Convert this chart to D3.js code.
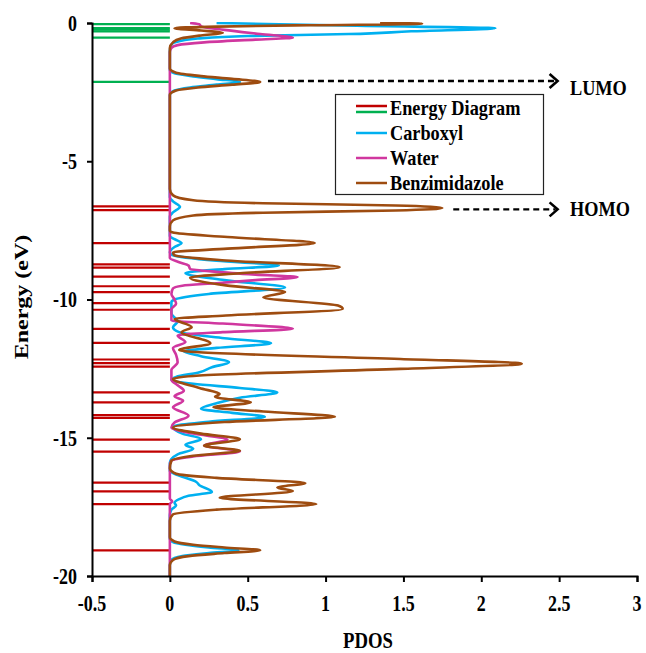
<!DOCTYPE html>
<html>
<head>
<meta charset="utf-8">
<script src="https://cdn.jsdelivr.net/npm/d3@7/dist/d3.min.js"></script>
<style>
  html, body { margin: 0; padding: 0; background: #fff; }
  svg { display: block; }
  text { font-family: "Liberation Serif", "Times New Roman", serif; font-weight: bold; fill: #000; }
</style>
</head>
<body>
<svg id="chart" width="646" height="653"></svg>
<script>
// Orbital energy levels (eV): unoccupied (green) and occupied (red)
const unoccupiedLevels = [-0.04, -0.18, -0.24, -0.3, -0.53, -2.13];
const occupiedLevels = [-6.63, -6.77, -7.96, -8.73, -8.85, -9.17, -9.52, -9.73, -10.13, -10.37,
  -11.06, -11.57, -12.17, -12.3, -12.43, -13.36, -13.72, -14.18, -14.28, -15.07, -15.5,
  -16.62, -16.94, -17.4, -19.07];
const levelSpan = [-0.5, 0];

// Projected density of states, [energy (eV), PDOS]
const carboxyl = [
  [0, 0.3], [-0.1, 1.2], [-0.19, 2.09], [-0.3, 1.55], [-0.4, 1.15], [-0.47, 0.5], [-0.56, 0.18],
  [-0.66, 0.06], [-0.78, 0.01], [-1.0, 0],
  [-1.7, 0], [-1.82, 0.03], [-1.93, 0.15], [-2.03, 0.3], [-2.13, 0.45], [-2.23, 0.3], [-2.33, 0.13],
  [-2.44, 0.03], [-2.6, 0],
  [-6.3, 0], [-6.45, 0.02], [-6.65, 0.065], [-6.85, 0.02], [-7.0, 0],
  [-7.7, 0], [-7.82, 0.03], [-7.96, 0.075], [-8.1, 0.03], [-8.3, 0],
  [-8.4, 0.02], [-8.6, 0.3], [-8.77, 0.7], [-8.9, 0.35], [-9.04, 0.1], [-9.3, 0.35], [-9.57, 0.74],
  [-9.8, 0.25], [-10.0, 0.03], [-10.1, 0.01],
  [-10.5, 0.01], [-10.8, 0.05], [-11.0, 0.02], [-11.18, 0.06], [-11.4, 0.35], [-11.58, 0.65],
  [-11.75, 0.3], [-11.87, 0.09], [-12.05, 0.2], [-12.27, 0.38], [-12.45, 0.27], [-12.63, 0.19],
  [-12.8, 0.04], [-12.9, 0.01],
  [-13.05, 0.15], [-13.2, 0.45], [-13.36, 0.69], [-13.55, 0.45], [-13.75, 0.3], [-13.95, 0.2],
  [-14.1, 0.4], [-14.25, 0.61], [-14.42, 0.25], [-14.6, 0.02],
  [-14.85, 0.08], [-15.05, 0.2], [-15.25, 0.1], [-15.4, 0.15], [-15.6, 0.05], [-15.77, 0.01], [-15.9, 0],
  [-16.2, 0], [-16.35, 0.05], [-16.6, 0.17], [-16.72, 0.19], [-16.96, 0.27], [-17.1, 0.12],
  [-17.22, 0.06], [-17.35, 0.03], [-17.45, 0.04], [-17.6, 0.01], [-17.8, 0],
  [-18.65, 0], [-18.77, 0.02], [-18.87, 0.1], [-18.97, 0.25], [-19.07, 0.44], [-19.17, 0.25],
  [-19.28, 0.08], [-19.42, 0.01], [-19.6, 0], [-20, 0]
];

const water = [
  [0, 0.13], [-0.05, 0.19], [-0.12, 0.2], [-0.25, 0.35], [-0.4, 0.58], [-0.53, 0.79], [-0.6, 0.55],
  [-0.7, 0.22], [-0.8, 0.05], [-0.9, 0.01], [-1.05, 0],
  [-8.5, 0], [-8.65, 0.06], [-8.77, 0.12], [-8.89, 0.13], [-9.0, 0.3], [-9.1, 0.55], [-9.19, 0.82],
  [-9.3, 0.55], [-9.41, 0.3], [-9.5, 0.08], [-9.6, 0.02], [-9.8, 0.01], [-10.0, 0.03], [-10.15, 0.04],
  [-10.35, 0.01], [-10.76, 0.01], [-10.87, 0.34], [-11.06, 0.79], [-11.18, 0.34], [-11.3, 0.05],
  [-11.54, 0.1], [-11.75, 0.02], [-12.0, 0.04], [-12.27, 0.05], [-12.55, 0.01], [-12.9, 0.01],
  [-13.1, 0.05], [-13.3, 0.09], [-13.5, 0.03], [-13.66, 0.085], [-13.9, 0.02], [-14.2, 0.12],
  [-14.45, 0.03], [-14.63, 0.01], [-14.85, 0.15], [-15.07, 0.37], [-15.28, 0.22], [-15.5, 0.45],
  [-15.68, 0.15], [-15.83, 0.01], [-16.0, 0],
  [-17.2, 0], [-17.3, 0.015], [-17.4, 0], [-20, 0]
];

const benzimidazole = [
  [0, 1.35], [-0.03, 1.62], [-0.08, 0.9], [-0.13, 0.3], [-0.19, 0.03], [-0.27, 0.2], [-0.36, 0.34],
  [-0.45, 0.2], [-0.56, 0.07], [-0.7, 0.02], [-0.9, 0],
  [-1.65, 0], [-1.8, 0.04], [-1.92, 0.2], [-2.02, 0.4], [-2.13, 0.58], [-2.23, 0.4], [-2.33, 0.18],
  [-2.44, 0.04], [-2.6, 0],
  [-6.0, 0], [-6.23, 0.02], [-6.41, 0.15], [-6.52, 0.6], [-6.6, 1.45], [-6.69, 1.75], [-6.78, 1.45],
  [-6.86, 0.6], [-6.96, 0.15], [-7.14, 0.02], [-7.35, 0],
  [-7.5, 0], [-7.58, 0.02], [-7.74, 0.37], [-7.96, 0.93], [-8.16, 0.37], [-8.3, 0.02],
  [-8.4, 0.03], [-8.59, 0.36], [-8.83, 1.09], [-9.05, 0.45], [-9.21, 0.13], [-9.49, 0.36],
  [-9.73, 0.74], [-9.92, 0.6], [-10.22, 1.08], [-10.34, 1.11], [-10.58, 0.36], [-10.7, 0.03],
  [-11.0, 0.14], [-11.18, 0.075], [-11.58, 0.26], [-11.83, 0.06], [-11.91, 0.19], [-12.15, 1.48],
  [-12.32, 2.26], [-12.51, 1.48], [-12.75, 0.19], [-12.87, 0.02],
  [-13.2, 0.19], [-13.42, 0.32], [-13.52, 0.29], [-13.72, 0.52], [-13.9, 0.28], [-14.05, 0.6],
  [-14.24, 1.06], [-14.43, 0.35], [-14.63, 0.02],
  [-14.85, 0.2], [-15.05, 0.45], [-15.29, 0.22], [-15.47, 0.45], [-15.65, 0.15], [-15.83, 0.01],
  [-16.1, 0], [-16.3, 0.04], [-16.45, 0.3], [-16.64, 0.87], [-16.8, 0.69], [-16.93, 0.79],
  [-17.17, 0.32], [-17.4, 0.94], [-17.6, 0.3], [-17.77, 0.02], [-18.0, 0],
  [-18.6, 0], [-18.75, 0.03], [-18.87, 0.15], [-18.97, 0.35], [-19.07, 0.58], [-19.17, 0.35],
  [-19.28, 0.12], [-19.42, 0.02], [-19.6, 0], [-20, 0]
];

const xTicks = [-0.5, 0, 0.5, 1, 1.5, 2, 2.5, 3];
const yTicks = [0, -5, -10, -15, -20];
const legendLabels = ["Energy Diagram", "Carboxyl", "Water", "Benzimidazole"];
const frontierLabels = ["LUMO", "HOMO"];
const frontierEnergies = [-2.1, -6.74];

const colors = {
  occupied: "#c00000", unoccupied: "#00b050",
  carboxyl: "#00b0f0", water: "#d0379f", benzimidazole: "#9e4c10"
};

const svg = d3.select("#chart");
const x = d3.scaleLinear().domain([-0.5, 3]).range([92, 637]);
const y = d3.scaleLinear().domain([-20, 0]).range([576, 23]);

// Text drawn slightly narrowed horizontally
function label(g, tx, ty, str, size, k, anchor, rotate) {
  return g.append("text")
    .attr("transform", `translate(${tx},${ty}) scale(${k},1)` + (rotate ? ` rotate(${rotate})` : ""))
    .attr("text-anchor", anchor)
    .attr("dominant-baseline", "central")
    .style("font-size", size + "px")
    .text(str);
}

svg.append("clipPath").attr("id", "plot")
  .append("rect").attr("x", 92).attr("y", 22).attr("width", 546).attr("height", 555);

const plot = svg.append("g").attr("clip-path", "url(#plot)");

// Energy diagram
plot.selectAll("line.unocc").data(unoccupiedLevels).join("line")
  .attr("x1", x(levelSpan[0])).attr("x2", x(levelSpan[1]))
  .attr("y1", d => y(d)).attr("y2", d => y(d))
  .attr("stroke", colors.unoccupied).attr("stroke-width", 2.2);
plot.selectAll("line.occ").data(occupiedLevels).join("line")
  .attr("x1", x(levelSpan[0])).attr("x2", x(levelSpan[1]))
  .attr("y1", d => y(d)).attr("y2", d => y(d))
  .attr("stroke", colors.occupied).attr("stroke-width", 2.2);

// PDOS curves
const line = d3.line().x(d => x(d[1])).y(d => y(d[0])).curve(d3.curveMonotoneY);
[["carboxyl", carboxyl], ["water", water], ["benzimidazole", benzimidazole]].forEach(([k, data]) => {
  plot.append("path").datum(data).attr("d", line)
    .attr("fill", "none").attr("stroke", colors[k]).attr("stroke-width", 2.6)
    .attr("stroke-linejoin", "round");
});

// Axes
const yAxis = svg.append("g").attr("transform", `translate(${x(-0.5)},0)`)
  .call(d3.axisLeft(y).tickValues(yTicks).tickSize(5).tickPadding(10).tickFormat(d3.format("d")));
const xAxis = svg.append("g").attr("transform", `translate(0,${y(-20)})`)
  .call(d3.axisBottom(x).tickValues(xTicks).tickSize(6).tickPadding(12).tickFormat(d => d));
[yAxis, xAxis].forEach(a => {
  a.select(".domain").attr("stroke", "#000").attr("stroke-width", 2);
  a.selectAll(".tick line").attr("stroke", "#000").attr("stroke-width", 2);
  a.selectAll("text").remove();
});
yTicks.forEach(t => label(svg, x(-0.5) - 15, y(t), t, 23, 0.78, "end"));
xTicks.forEach(t => label(svg, x(t), y(-20) + 27, t, 23, 0.78, "middle"));

// Axis titles
label(svg, 368, 640, "PDOS", 24, 0.78, "middle");
label(svg, 22, 297, "Energy (eV)", 24, 0.78, "middle", -90);

// Legend
const lg = svg.append("g");
lg.append("rect").attr("x", 335.5).attr("y", 94.5).attr("width", 208).attr("height", 100)
  .attr("fill", "#fff").attr("stroke", "#222").attr("stroke-width", 1.2);
const legendColors = [null, colors.carboxyl, colors.water, colors.benzimidazole];
legendLabels.forEach((name, i) => {
  const cy = 108 + i * 25;
  if (i === 0) {
    lg.append("line").attr("x1", 356).attr("x2", 387).attr("y1", cy - 2).attr("y2", cy - 2)
      .attr("stroke", colors.occupied).attr("stroke-width", 2.5);
    lg.append("line").attr("x1", 356).attr("x2", 387).attr("y1", cy + 4).attr("y2", cy + 4)
      .attr("stroke", colors.unoccupied).attr("stroke-width", 2.5);
  } else {
    lg.append("line").attr("x1", 356).attr("x2", 387).attr("y1", cy).attr("y2", cy)
      .attr("stroke", legendColors[i]).attr("stroke-width", 2.5);
  }
  label(lg, 390, cy, name, 21, 0.87, "start");
});

// Frontier orbital markers
const arrowStart = [0.63, 1.82];
const arrowEnd = 2.49;
frontierLabels.forEach((name, i) => {
  const ay = y(frontierEnergies[i]);
  svg.append("line").attr("x1", x(arrowStart[i])).attr("x2", x(arrowEnd) - 2)
    .attr("y1", ay).attr("y2", ay).attr("stroke", "#000").attr("stroke-width", 2.4)
    .attr("stroke-dasharray", "6,4");
  svg.append("path")
    .attr("d", `M${x(arrowEnd) - 8},${ay - 7} L${x(arrowEnd)},${ay} L${x(arrowEnd) - 8},${ay + 7}`)
    .attr("fill", "none").attr("stroke", "#000").attr("stroke-width", 2.6);
  label(svg, 570, ay + (i === 0 ? 6 : -1), name, 21, 0.87, "start");
});
</script>
</body>
</html>
